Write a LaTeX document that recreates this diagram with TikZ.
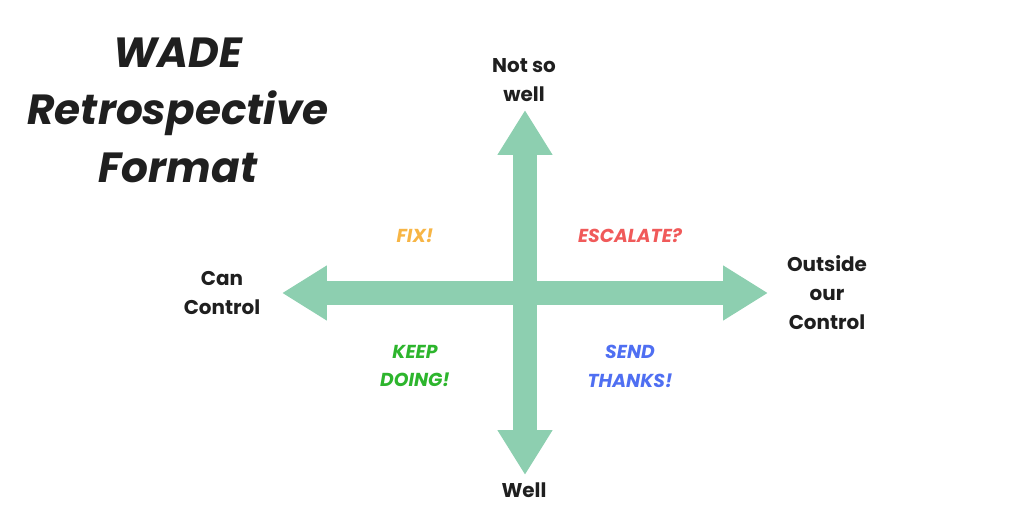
\documentclass[tikz,border=0pt]{standalone}
\usepackage{fontspec}
\setmainfont{Poppins}
\usetikzlibrary{arrows.meta}
\definecolor{mint}{HTML}{8DCFB0}
\definecolor{fixcol}{HTML}{F7B545}
\definecolor{esccol}{HTML}{F05A5A}
\definecolor{keepcol}{HTML}{2DB52D}
\definecolor{sendcol}{HTML}{4F6FF2}
\tikzset{
  axis/.style={mint, line width=24*0.85pt,
    {Triangle[width=52*0.85pt, length=45*0.85pt]}-{Triangle[width=52*0.85pt, length=45*0.85pt]}},
  lab/.style={align=center, font=\fontsize{17}{24.7}\selectfont\bfseries, text=black!88},
  quad/.style={align=center, font=\fontsize{16}{24.7}\selectfont\bfseries\itshape}
}
\begin{document}
\begin{tikzpicture}[x=0.3mm, y=-0.3mm]
        \useasboundingbox (0,0) rectangle (1024,512);

        \node[align=center, font=\fontsize{36}{49}\selectfont\bfseries\itshape, text=black!88] at (178,110) (title) {WADE\\Retrospective\\Format};

        \node[lab] at (524,80) (notwell) {Not so\\well};
        \node[lab] at (524,490) (well) {Well};
        \node[lab] at (222,293) (can) {Can\\Control};
        \node[lab] at (827,293) (out) {Outside\\our\\Control};

        \coordinate (top) at (525,110);
        \coordinate (bottom) at (525,475);
        \coordinate (left) at (282,293);
        \coordinate (right) at (768,293);

        \draw[axis] (left) -- (right);
        \draw[axis] (bottom) -- (top);

        \node[quad, text=fixcol] at (415,236) (fix) {FIX!};
        \node[quad, text=esccol] at (630,236) (esc) {ESCALATE?};
        \node[quad, text=keepcol] at (415,366) (keep) {KEEP\\DOING!};
        \node[quad, text=sendcol] at (630,366) (send) {SEND\\THANKS!};
\end{tikzpicture}
\end{document}
